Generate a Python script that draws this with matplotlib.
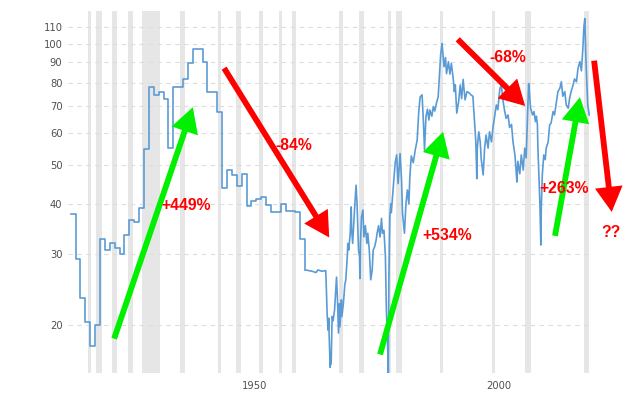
import matplotlib
matplotlib.use("Agg")
import matplotlib.pyplot as plt
from matplotlib.patches import FancyArrowPatch

# annual (step) part of the series
annual_years = list(range(1915, 1964))
annual_values = [37.8, 29.1, 23.4, 20.3, 17.7, 20.0, 32.8, 30.7, 32.0, 31.0,
                 30.1, 33.4, 36.4, 36.0, 39.0, 54.8, 77.9, 74.6, 75.8, 73.0,
                 54.9, 77.9, 77.9, 81.6, 89.4, 97.2, 97.2, 90.2, 76.0, 76.0,
                 67.5, 43.9, 48.6, 47.3, 44.3, 47.4, 39.4, 40.7, 41.1, 41.5,
                 39.7, 38.1, 38.1, 40.0, 38.4, 38.4, 38.1, 32.7, 27.4]

# monthly part of the series
monthly_years = [
    1963.1, 1964.4, 1965.2, 1965.6, 1966.4, 1967.2, 1967.5, 1967.7, 1967.8, 1967.9,
    1968.1, 1968.2, 1968.3, 1968.5, 1968.7, 1969.0, 1969.2, 1969.4, 1969.6, 1969.8,
    1970.0, 1970.1, 1970.4, 1970.5, 1970.8, 1971.1, 1971.3, 1971.6, 1971.7, 1971.9,
    1972.2, 1972.4, 1972.5, 1972.7, 1973.0, 1973.2, 1973.4, 1973.6, 1973.9, 1974.1,
    1974.2, 1974.3, 1974.5, 1974.8, 1975.0, 1975.3, 1975.6, 1975.8, 1976.1, 1976.4,
    1976.7, 1976.9, 1977.2, 1977.5, 1977.7, 1978.0, 1978.3, 1978.6, 1978.8, 1979.1,
    1979.4, 1979.6, 1979.8, 1980.0, 1980.1, 1980.3, 1980.5, 1980.6, 1981.0, 1981.4,
    1981.7, 1982.0, 1982.4, 1982.7, 1982.9, 1983.3, 1983.6, 1983.9, 1984.2, 1984.4,
    1984.7, 1985.1, 1985.5, 1985.9, 1986.2, 1986.5, 1986.9, 1987.2, 1987.4, 1987.7,
    1988.0, 1988.3, 1988.5, 1988.9, 1989.2, 1989.5, 1989.9, 1990.2, 1990.4, 1990.7,
    1991.0, 1991.1, 1991.4, 1991.7, 1991.9, 1992.3, 1992.6, 1992.9, 1993.3, 1993.5,
    1993.7, 1994.0, 1994.4, 1994.7, 1995.0, 1995.3, 1995.7, 1996.1, 1996.5, 1996.9,
    1997.3, 1997.6, 1997.9, 1998.1, 1998.2, 1998.5, 1998.8, 1999.0, 1999.4, 1999.7,
    2000.0, 2000.4, 2000.7, 2001.1, 2001.4, 2001.8, 2002.1, 2002.4, 2002.8, 2003.1,
    2003.5, 2003.8, 2004.1, 2004.5, 2004.8, 2005.2, 2005.5, 2005.9, 2006.1, 2006.3,
    2006.5, 2006.9, 2007.2, 2007.6, 2007.9, 2008.2, 2008.4, 2008.7, 2008.9, 2009.1,
    2009.5, 2009.8, 2010.1, 2010.3, 2010.5, 2010.6, 2010.8, 2011.0, 2011.2, 2011.3,
    2011.5, 2011.8, 2012.1, 2012.3, 2012.7, 2013.0, 2013.3, 2013.7, 2014.0, 2014.4,
    2014.7, 2015.1, 2015.4, 2015.7, 2016.1, 2016.4, 2016.8, 2017.1, 2017.4, 2017.8,
    2018.1, 2018.5, 2018.8, 2019.2, 2019.5, 2019.8, 2020.0, 2020.2, 2020.4, 2020.6,
    2020.8, 2021.1]
monthly_values = [
    27.4, 27.2, 27.0, 27.4, 27.2, 27.3, 21.0, 19.4, 20.8, 18.7,
    15.7, 16.6, 16.0, 21.0, 20.5, 21.8, 23.9, 26.3, 23.1, 19.1,
    22.6, 19.8, 23.1, 21.0, 22.6, 25.2, 25.9, 29.6, 31.9, 30.7,
    33.8, 39.3, 34.4, 31.9, 37.1, 40.9, 44.5, 40.0, 30.7, 29.6,
    26.1, 31.9, 37.1, 38.6, 33.1, 35.3, 31.9, 33.8, 30.7, 25.9,
    27.4, 30.7, 31.3, 32.5, 33.8, 35.3, 33.1, 36.8, 33.8, 34.4,
    29.6, 21.8, 18.7, 15.2, 25.2, 37.1, 40.0, 38.0, 44.0, 50.6,
    52.9, 44.9, 53.3, 46.0, 37.9, 33.8, 40.0, 43.3, 40.0, 46.7,
    52.6, 50.6, 54.4, 57.6, 67.0, 73.7, 74.6, 63.1, 54.4, 65.9,
    68.7, 64.6, 68.4, 66.0, 69.8, 68.0, 71.6, 73.7, 81.2, 93.7,
    100.0, 96.4, 87.6, 92.3, 84.2, 90.2, 84.0, 89.3, 81.2, 76.0,
    79.0, 67.2, 72.0, 78.9, 73.0, 81.5, 72.5, 76.0, 75.5, 74.6,
    74.0, 65.2, 57.1, 46.2, 55.0, 60.4, 57.0, 51.7, 47.2, 55.0,
    59.3, 55.0, 60.4, 57.0, 61.9, 66.5, 70.4, 68.5, 77.0, 78.9,
    71.6, 68.0, 65.2, 66.5, 61.9, 63.0, 57.1, 52.9, 49.2, 45.3,
    51.0, 47.5, 52.9, 48.5, 55.0, 52.0, 61.9, 79.6, 74.6, 69.1,
    66.5, 67.8, 64.0, 66.0, 62.8, 55.0, 47.2, 40.4, 31.6, 39.1,
    47.2, 52.9, 51.5, 55.0, 57.0, 62.8, 63.5, 67.8, 66.5, 71.6,
    76.0, 77.5, 80.4, 74.0, 76.0, 70.4, 69.1, 73.3, 76.0, 78.9,
    81.7, 80.4, 86.7, 90.2, 85.6, 97.2, 109.6, 115.4, 93.7, 80.4,
    70.4, 66.5]

recession_starts = [1918.6, 1920.1, 1923.4, 1926.8, 1929.6, 1937.4, 1945.1, 1948.9,
                    1953.5, 1957.6, 1960.3, 1969.9, 1973.9, 1980.0, 1981.6, 1990.5,
                    2001.2, 2007.9, 2020.1]
recession_ends = [1919.2, 1921.4, 1924.4, 1927.8, 1933.2, 1938.4, 1945.8, 1949.8,
                  1954.4, 1958.3, 1961.1, 1970.8, 1975.0, 1980.5, 1982.8, 1991.2,
                  2001.9, 2009.2, 2021.0]

y_ticks = [20, 30, 40, 50, 60, 70, 80, 90, 100, 110]
x_ticks = [1950, 2000]

# arrows: (tail year, tail value, tip year, tip value, colour)
arrows = [
    (1923.9, 18.5, 1940.0, 69.5, "#00f000"),
    (1946.4, 86.9, 1967.9, 33.0, "#ff0000"),
    (1978.3, 16.9, 1991.2, 60.4, "#00f000"),
    (1994.2, 102.5, 2008.0, 70.0, "#ff0000"),
    (2014.1, 33.3, 2019.2, 73.6, "#00f000"),
    (2022.1, 90.7, 2025.7, 38.2, "#ff0000"),
]
labels = [
    ("+449%", 1938.65, 39.7),
    ("-84%", 1960.56, 55.8),
    ("+534%", 1992.04, 33.4),
    ("-68%", 2004.48, 92.5),
    ("+263%", 2016.0, 43.6),
    ("??", 2025.6, 34.0),
]

fig = plt.figure(figsize=(6.24, 3.94), dpi=100)
ax = fig.add_axes([68 / 624, 21 / 394, 522 / 624, 362 / 394])

for s, e in zip(recession_starts, recession_ends):
    ax.axvspan(s, e, color="#e6e6e6", lw=0, zorder=0)

line_color = "#5b9bd5"
ax.plot(annual_years, annual_values, drawstyle="steps-post", color=line_color, lw=1.2, zorder=3)
ax.plot(monthly_years, monthly_values, color=line_color, lw=1.2, zorder=3)

ax.set_yscale("log")
ax.set_xlim(1914.46, 2021.26)
ax.set_ylim(15.2, 120.5)
ax.set_yticks(y_ticks)
ax.set_yticklabels([str(t) for t in y_ticks])
ax.yaxis.set_minor_locator(matplotlib.ticker.NullLocator())
ax.set_xticks(x_ticks)
ax.set_xticklabels([str(t) for t in x_ticks], ha="left")
ax.tick_params(length=0, labelsize=7.2, labelcolor="#505050")
ax.tick_params(axis="y", pad=4)
ax.tick_params(axis="x", pad=6)
ax.grid(axis="y", color="#dddddd", linestyle=(0, (4, 4)), lw=0.8)
ax.set_axisbelow(True)
for sp in ax.spines.values():
    sp.set_visible(False)

for x0, y0, x1, y1, c in arrows:
    arr = FancyArrowPatch((x0, y0), (x1, y1),
                          arrowstyle="simple,head_length=18,head_width=20,tail_width=4.2",
                          mutation_scale=1, lw=0, color=c, shrinkA=0, shrinkB=0,
                          clip_on=False, zorder=5)
    ax.add_patch(arr)

for txt, x, y in labels:
    ax.text(x, y, txt, color="#ff0000", fontsize=11.3, fontweight="bold",
            family="Liberation Sans", ha="center", va="center", zorder=6)

fig.savefig("out.png", dpi=100)
